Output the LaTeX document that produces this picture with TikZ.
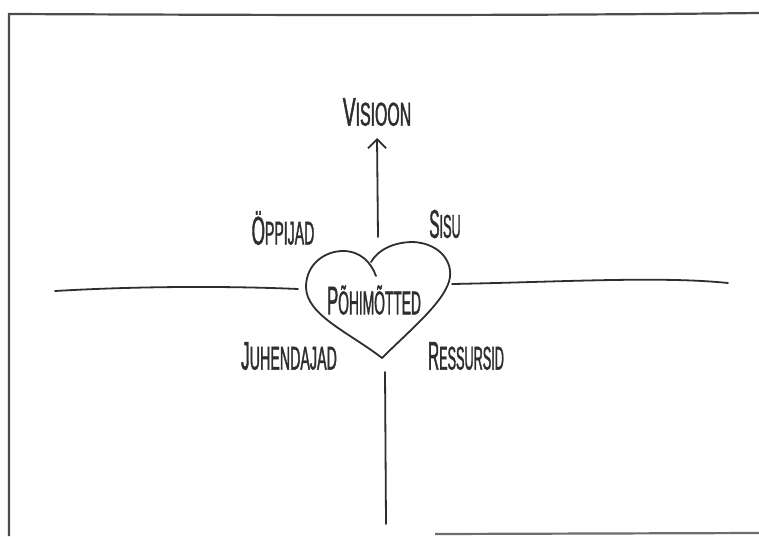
\documentclass[tikz,border=0pt]{standalone}
\usepackage{fontspec}
\usepackage{graphicx}
\newfontfamily\hand[FakeStretch=0.48,FakeBold=1.2]{Liberation Sans}
\usetikzlibrary{arrows.meta}
\definecolor{inkc}{HTML}{2E2E2E}
\newcommand{\hw}[3]{\scalebox{#1}[1]{{\fontsize{40}{40}\selectfont #2}{\fontsize{33}{33}\selectfont #3}}}
\begin{document}
\begin{tikzpicture}[x=1pt,y=-1pt,
  ink/.style={draw=inkc, line width=1.8pt, line cap=round},
  frame/.style={draw=inkc!85, line width=2.2pt},
  lbl/.style={font=\hand, text=inkc, inner sep=0pt}]
\useasboundingbox (0,0) rectangle (759,536);
\fill[white] (0,0) rectangle (759,536);
% frame
\draw[frame] (9,536) -- (9,14) .. controls (250,15) and (500,16) .. (759,13);
\draw[frame, draw=inkc!70] (435,534) -- (759,533);
% labels
\node[lbl] (visioon) at (377,112) {\hw{1.0}{V}{ISIOON}};
\node[lbl] (oppijad) at (283,228) {\hw{0.89}{Ö}{PPIJAD}};
\node[lbl] (sisu) at (445,224) {\hw{0.8}{S}{ISU}};
\node[lbl] (pohi) at (374,300) {\hw{0.87}{P}{ÕHIMÕTTED}};
\node[lbl] (juh) at (289,356) {\hw{0.9}{J}{UHENDAJAD}};
\node[lbl] (res) at (466,356) {\hw{0.8}{R}{ESSURSID}};
% heart
\coordinate (hB) at (382,358);
\coordinate (hL) at (306,287);
\coordinate (hR) at (450,277);
\coordinate (hT) at (371,262);
\draw[ink] (hB) .. controls (350,333) and (306,315) .. (hL)
  .. controls (306,264) and (325,251) .. (343,251)
  .. controls (360,251) and (371,262) .. (376,276);
\draw[ink] (hT) .. controls (380,247) and (398,242) .. (413,242)
  .. controls (436,243) and (452,258) .. (hR)
  .. controls (447,300) and (410,330) .. (hB);
% connectors
\coordinate (lEnd) at (55,291);
\coordinate (lIn) at (298,289);
\coordinate (rIn) at (452,284);
\coordinate (rEnd) at (728,283);
\coordinate (bTop) at (385,372);
\coordinate (bEnd) at (386,524);
\coordinate (aFoot) at (378,237);
\coordinate (aTip) at (377,138);
\draw[ink] (lEnd) .. controls (140,286) and (230,286) .. (lIn);
\draw[ink] (rIn) .. controls (560,282) and (660,276) .. (rEnd);
\draw[ink] (bTop) -- (bEnd);
\draw[ink, -{Straight Barb[length=9pt,width=18pt,line width=1.8pt]}] (aFoot) -- (aTip);
\end{tikzpicture}
\end{document}
